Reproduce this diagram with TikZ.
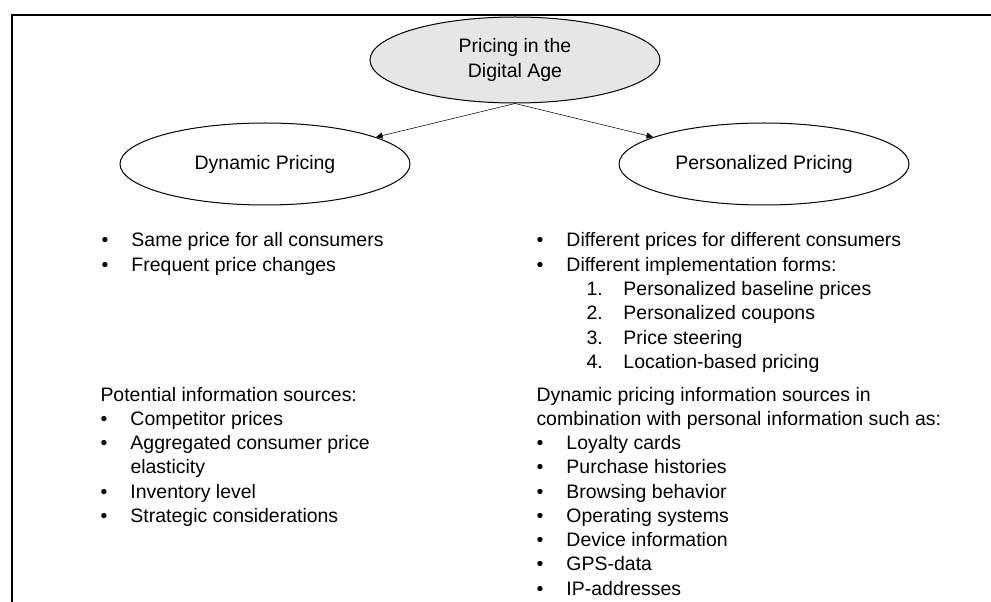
\documentclass[tikz,border=0pt]{standalone}
\usepackage{fontspec}
\setmainfont{Liberation Sans}
\usetikzlibrary{shapes.geometric,arrows.meta}
\definecolor{rootgray}{HTML}{E6E6E6}
\tikzset{every picture/.style={line width=0.75pt}}
\tikzset{
  txt/.style={font=\fontsize{14.6}{18.2}\selectfont, inner sep=0pt},
  oval/.style={txt, ellipse, draw, minimum width=217.5pt, minimum height=61.5pt},
  block/.style={txt, anchor=base west},
  link/.style={line width=0.4pt, -{Triangle[length=5pt,width=4.5pt]}}
}
\newcommand{\bitem}{\makebox[22.5pt][l]{\textbullet}}
\newcommand{\numitem}[1]{\hspace*{37.5pt}\makebox[27.75pt][l]{#1}}

\begin{document}
\begin{tikzpicture}[x=0.75pt,y=-0.75pt]
\useasboundingbox (0,0) rectangle (991,602);
\draw[line width=1.5pt] (991,15) -- (12,15) -- (12,602);
%
\node[oval, fill=rootgray, minimum height=64.5pt, align=center] (root) at (515,60) {Pricing in the\\Digital Age};
\node[oval] (dyn) at (265,164) {Dynamic Pricing};
\node[oval] (pers) at (764,164) {Personalized Pricing};
%
\foreach \Target in {dyn, pers}
\draw[link] (root.south) to (\Target);
%
\node[block] (dynlist) at (101,247) {\begin{tabular}[t]{@{}l@{}}
\bitem Same price for all consumers\\
\bitem Frequent price changes
\end{tabular}};
\node[block] (perslist) at (536,247) {\begin{tabular}[t]{@{}l@{}}
\bitem Different prices for different consumers\\
\bitem Different implementation forms:\\
\numitem{1.}Personalized baseline prices\\
\numitem{2.}Personalized coupons\\
\numitem{3.}Price steering\\
\numitem{4.}Location-based pricing
\end{tabular}};
%
\node[block] (dynsrc) at (100,401) {\begin{tabular}[t]{@{}l@{}}
Potential information sources:\\
\bitem Competitor prices\\
\bitem Aggregated consumer price\\
\hspace*{22.5pt}elasticity\\
\bitem Inventory level\\
\bitem Strategic considerations
\end{tabular}};
\node[block] (perssrc) at (536,401) {\begin{tabular}[t]{@{}l@{}}
Dynamic pricing information sources in\\
combination with personal information such as:\\
\bitem Loyalty cards\\
\bitem Purchase histories\\
\bitem Browsing behavior\\
\bitem Operating systems\\
\bitem Device information\\
\bitem GPS-data\\
\bitem IP-addresses
\end{tabular}};
\end{tikzpicture}
\end{document}
